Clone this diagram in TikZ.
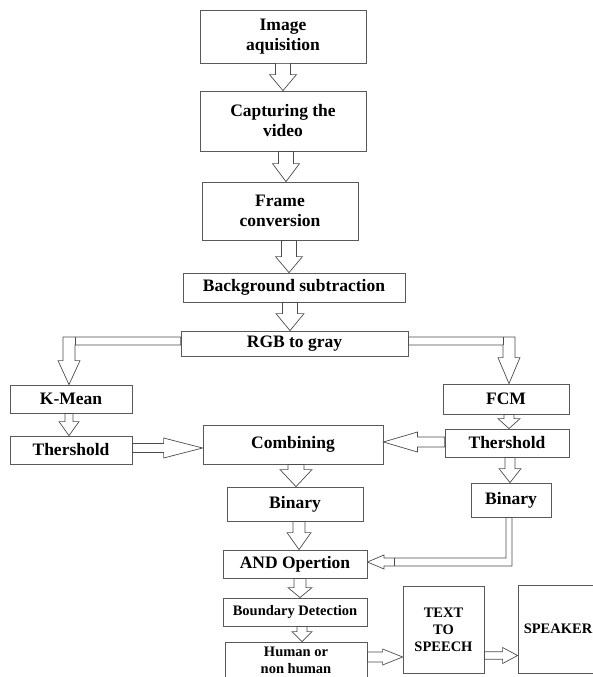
\documentclass[tikz,border=0pt]{standalone}
\usepackage{fontspec}
\setmainfont{Liberation Serif}
\usetikzlibrary{calc}

\tikzset{
  box/.style={draw=black!65, line width=0.8pt, fill=white, align=center, inner sep=0pt,
    font=\bfseries\fontsize{17.5}{20}\selectfont},
  smallbox/.style={box, font=\bfseries\fontsize{14.5}{17}\selectfont},
  hollow/.style={draw=black!70, line width=0.7pt, fill=white, line join=miter},
}

% hollow block arrows: position, from node, to node, shaft half, head half, head length
\newcommand{\varrow}[6]{%
  \draw[hollow] let \p1=(#2.south), \p2=(#3.north) in
    (#1pt-#4pt,\y1) -- (#1pt-#4pt,\y2+#6pt) -- (#1pt-#5pt,\y2+#6pt) -- (#1pt,\y2)
    -- (#1pt+#5pt,\y2+#6pt) -- (#1pt+#4pt,\y2+#6pt) -- (#1pt+#4pt,\y1) -- cycle;}
\newcommand{\rarrow}[6]{%
  \draw[hollow] let \p1=(#2.east), \p2=(#3.west) in
    (\x1,-#1pt+#4pt) -- (\x2-#6pt,-#1pt+#4pt) -- (\x2-#6pt,-#1pt+#5pt) -- (\x2,-#1pt)
    -- (\x2-#6pt,-#1pt-#5pt) -- (\x2-#6pt,-#1pt-#4pt) -- (\x1,-#1pt-#4pt) -- cycle;}
\newcommand{\larrow}[6]{%
  \draw[hollow] let \p1=(#2.west), \p2=(#3.east) in
    (\x1,-#1pt+#4pt) -- (\x2+#6pt,-#1pt+#4pt) -- (\x2+#6pt,-#1pt+#5pt) -- (\x2,-#1pt)
    -- (\x2+#6pt,-#1pt-#5pt) -- (\x2+#6pt,-#1pt-#4pt) -- (\x1,-#1pt-#4pt) -- cycle;}

\begin{document}
\begin{tikzpicture}[x=1pt, y=-1pt]
\useasboundingbox (0,0) rectangle (593,677);
\clip (0,0) rectangle (593,677);

% Main column
\node[box, minimum width=166pt, minimum height=53pt] (img) at (283,36.5) {Image\\aquisition};
\node[box, minimum width=166pt, minimum height=60pt] (cap) at (283,121) {Capturing the\\video};
\node[box, minimum width=156pt, minimum height=58pt] (frame) at (280,211) {Frame\\conversion};
\node[box, minimum width=222pt, minimum height=29pt] (bg) at (294,287.5) {Background subtraction};
\node[box, minimum width=227pt, minimum height=25pt] (rgb) at (294.5,343.5) {RGB to gray};

% Left branch
\node[box, minimum width=122pt, minimum height=28pt] (kmean) at (71,399) {K-Mean};
\node[box, minimum width=122pt, minimum height=28pt] (thrL) at (71,450) {Thershold};

% Right branch
\node[box, minimum width=126pt, minimum height=30pt] (fcm) at (506,399) {FCM};
\node[box, minimum width=124pt, minimum height=28pt] (thrR) at (507,443) {Thershold};
\node[box, minimum width=80pt, minimum height=34pt] (binR) at (511,500) {Binary};

% Middle column
\node[box, minimum width=180pt, minimum height=39pt] (comb) at (293,444.5) {Combining};
\node[box, minimum width=136pt, minimum height=34pt] (binM) at (295,504) {Binary};
\node[box, minimum width=144pt, minimum height=28pt] (and) at (295,564) {AND Opertion};
\node[smallbox, minimum width=144pt, minimum height=28pt] (bnd) at (295,612) {Boundary Detection};
\node[smallbox, minimum width=142pt, minimum height=36pt] (hum) at (296,660) {Human or\\non human};

% Output
\node[smallbox, minimum width=81pt, minimum height=87pt] (tts) at (443.5,629.5) {TEXT\\TO\\SPEECH};
\node[smallbox, minimum width=80pt, minimum height=88pt] (spk) at (558,629) {SPEAKER};

% Vertical arrows
\varrow{283}{img}{cap}{7.5}{13.5}{16}
\varrow{286}{cap}{frame}{7.5}{13.5}{18}
\varrow{289}{frame}{bg}{7.5}{13.5}{16}
\varrow{290}{bg}{rgb}{7.5}{14}{17}
\varrow{69}{kmean}{thrL}{4}{10}{14}
\varrow{509}{fcm}{thrR}{5}{11}{10}
\varrow{510}{thrR}{binR}{5}{11}{14}
\varrow{296}{comb}{binM}{8}{16}{17}
\varrow{299}{binM}{and}{6}{12}{17}
\varrow{300}{and}{bnd}{6}{12}{10}
\varrow{302}{bnd}{hum}{5}{10}{10}

% Horizontal arrows
\rarrow{448}{thrL}{comb}{4.5}{10}{39}
\larrow{442}{thrR}{comb}{5}{10}{34}
\rarrow{657}{hum}{tts}{5}{8}{20}
\rarrow{655.5}{tts}{spk}{3.7}{8}{15}

% RGB to K-Mean
\draw[hollow] let \p1=(rgb.west), \p2=(kmean.north) in
  (\x1,-337pt) -- (63pt,-337pt) -- (63pt,\y2+24pt) -- (58pt,\y2+24pt) -- (69pt,\y2)
  -- (80pt,\y2+24pt) -- (75pt,\y2+24pt) -- (75pt,-345pt) -- (\x1,-345pt) -- cycle;
\draw[hollow] (75,337) -- (75,345);

% RGB to FCM
\draw[hollow] let \p1=(rgb.east), \p2=(fcm.north) in
  (\x1,-337pt) -- (515pt,-337pt) -- (515pt,\y2+26pt) -- (520pt,\y2+26pt) -- (509pt,\y2)
  -- (498pt,\y2+26pt) -- (503pt,\y2+26pt) -- (503pt,-345pt) -- (\x1,-345pt) -- cycle;
\draw[hollow] (503,337) -- (503,345);

% Binary to AND
\draw[hollow] let \p1=(binR.south), \p2=(and.east) in
  (506pt,\y1) -- (506pt,-558pt) -- (384pt,-558pt) -- (384pt,-555pt) -- (\x2,-562pt)
  -- (384pt,-569pt) -- (384pt,-566pt) -- (512pt,-566pt) -- (512pt,\y1) -- cycle;
\draw[hollow] (394,558) -- (394,566);
\end{tikzpicture}
\end{document}
